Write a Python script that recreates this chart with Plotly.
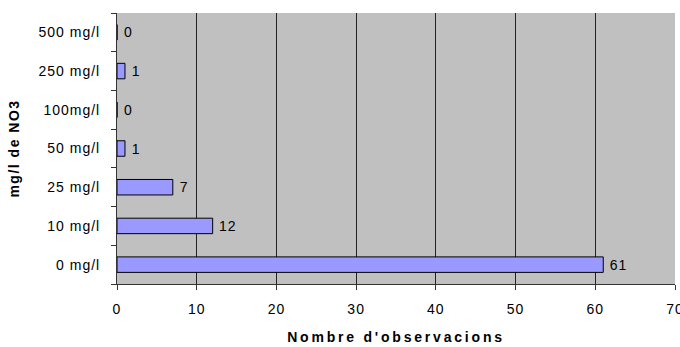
import plotly.graph_objects as go

categories = ["0 mg/l", "10 mg/l", "25 mg/l", "50 mg/l", "100mg/l", "250 mg/l", "500 mg/l"]
values = [61, 12, 7, 1, 0, 1, 0]
x_ticks = [0, 10, 20, 30, 40, 50, 60, 70]

FONT = "Liberation Sans, Arial, sans-serif"

fig = go.Figure(go.Bar(
    y=categories, x=values, orientation="h",
    marker=dict(color="#9999FF", line=dict(color="black", width=1)),
    text=["\u00a0" + str(v) for v in values], textposition="outside",
    textfont=dict(family=FONT, size=14, color="black"),
    constraintext="none",
    cliponaxis=False,
))

fig.update_layout(
    width=680, height=347,
    margin=dict(l=117, r=5, t=13, b=63),
    paper_bgcolor="white", plot_bgcolor="#C0C0C0",
    bargap=0.6, showlegend=False,
    font=dict(family=FONT, size=14, color="black"),
    xaxis=dict(
        range=[0, 70], tickvals=x_ticks, ticks="outside", ticklen=5, tickcolor="#333",
        showgrid=True, gridcolor="#222", gridwidth=1, zeroline=False,
        showline=True, linecolor="#333", linewidth=1, automargin=False,
        ticklabelstandoff=7, ticklabeloverflow="allow",
        title=dict(text="<b>Nombre d'observacions</b>", font=dict(size=14), standoff=16),
    ),
    yaxis=dict(
        categoryorder="array", categoryarray=categories,
        ticks="outside", ticklen=5, tickcolor="#333", tickson="boundaries",
        showgrid=False, showline=True, linecolor="#333", linewidth=1, automargin=False,
        ticklabelstandoff=13,
        title=dict(text="<b>mg/l de NO3</b>", font=dict(size=14), standoff=23),
    ),
)

post = """
document.body.style.margin = '0';
var gd = document.getElementById('{plot_id}');
function spacing() {
  gd.querySelectorAll('.xtick text, .ytick text, text.bartext').forEach(function(t){ t.style.letterSpacing = '1px'; });
  gd.querySelectorAll('text.xtitle').forEach(function(t){ t.style.letterSpacing = '2.8px'; });
  gd.querySelectorAll('text.ytitle').forEach(function(t){ t.style.letterSpacing = '1.5px'; });
}
spacing();
gd.on('plotly_afterplot', spacing);
"""

fig.write_html("out.html", post_script=post, config={"displayModeBar": False})
